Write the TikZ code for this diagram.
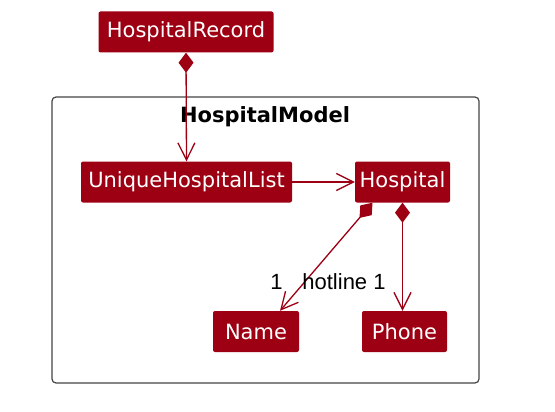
\documentclass[tikz,border=0pt]{standalone}
\usepackage{fontspec}
\setmainfont{DejaVu Sans}
\newfontfamily\labelfont{Liberation Sans}
\usetikzlibrary{positioning,arrows.meta}

\definecolor{modelred}{HTML}{9D0012}
\definecolor{framegray}{HTML}{444444}

\begin{document}
\begin{tikzpicture}[
    x=1pt, y=-1pt,
    cls/.style={fill=modelred, text=white, rounded corners=2pt, inner sep=0pt,
                minimum height=41pt, font=\fontsize{21}{25}\selectfont}, % Style for classes
    assoc/.style={draw=modelred, line width=1.3pt},
    comp/.style={assoc, {Diamond[length=20pt,width=15pt]}-{Straight Barb[length=17pt,width=17pt]}},
    nav/.style={assoc, -{Straight Barb[length=17pt,width=17pt]}},
    mult/.style={font=\labelfont\fontsize{22}{26}\selectfont, inner sep=0pt}
]

\useasboundingbox (0,0) rectangle (555,412);

% Package frame
\draw[framegray, line width=1.2pt, rounded corners=4pt] (52,97) rectangle (479,383);
\node[font=\bfseries\fontsize{21}{25}\selectfont, inner sep=0pt] (title) at (265,117) {HospitalModel};

% Classes
\node[cls, minimum width=175pt] (record) at (186,32) {HospitalRecord};
\node[cls, minimum width=211pt] (list) at (186.5,182) {UniqueHospitalList};
\node[cls, minimum width=95pt] (hospital) at (402.5,182) {Hospital};
\node[cls, minimum width=86pt] (name) at (256,331.5) {Name};
\node[cls, minimum width=85pt] (phone) at (404.5,331.5) {Phone};

% Connectors
\draw[comp] (record.south) -- (list.north);
\draw[nav] (list.east) -- (hospital.west);
\draw[comp] ([xshift=-30pt]hospital.south) -- ([xshift=24pt]name.north);
\draw[comp] (hospital.south) -- (hospital.south |- phone.north);

% Multiplicities
\node[mult] (namemult) at (276.5,282) {1};
\node[mult] (hotline) at (344,282) {hotline 1};

\end{tikzpicture}
\end{document}
